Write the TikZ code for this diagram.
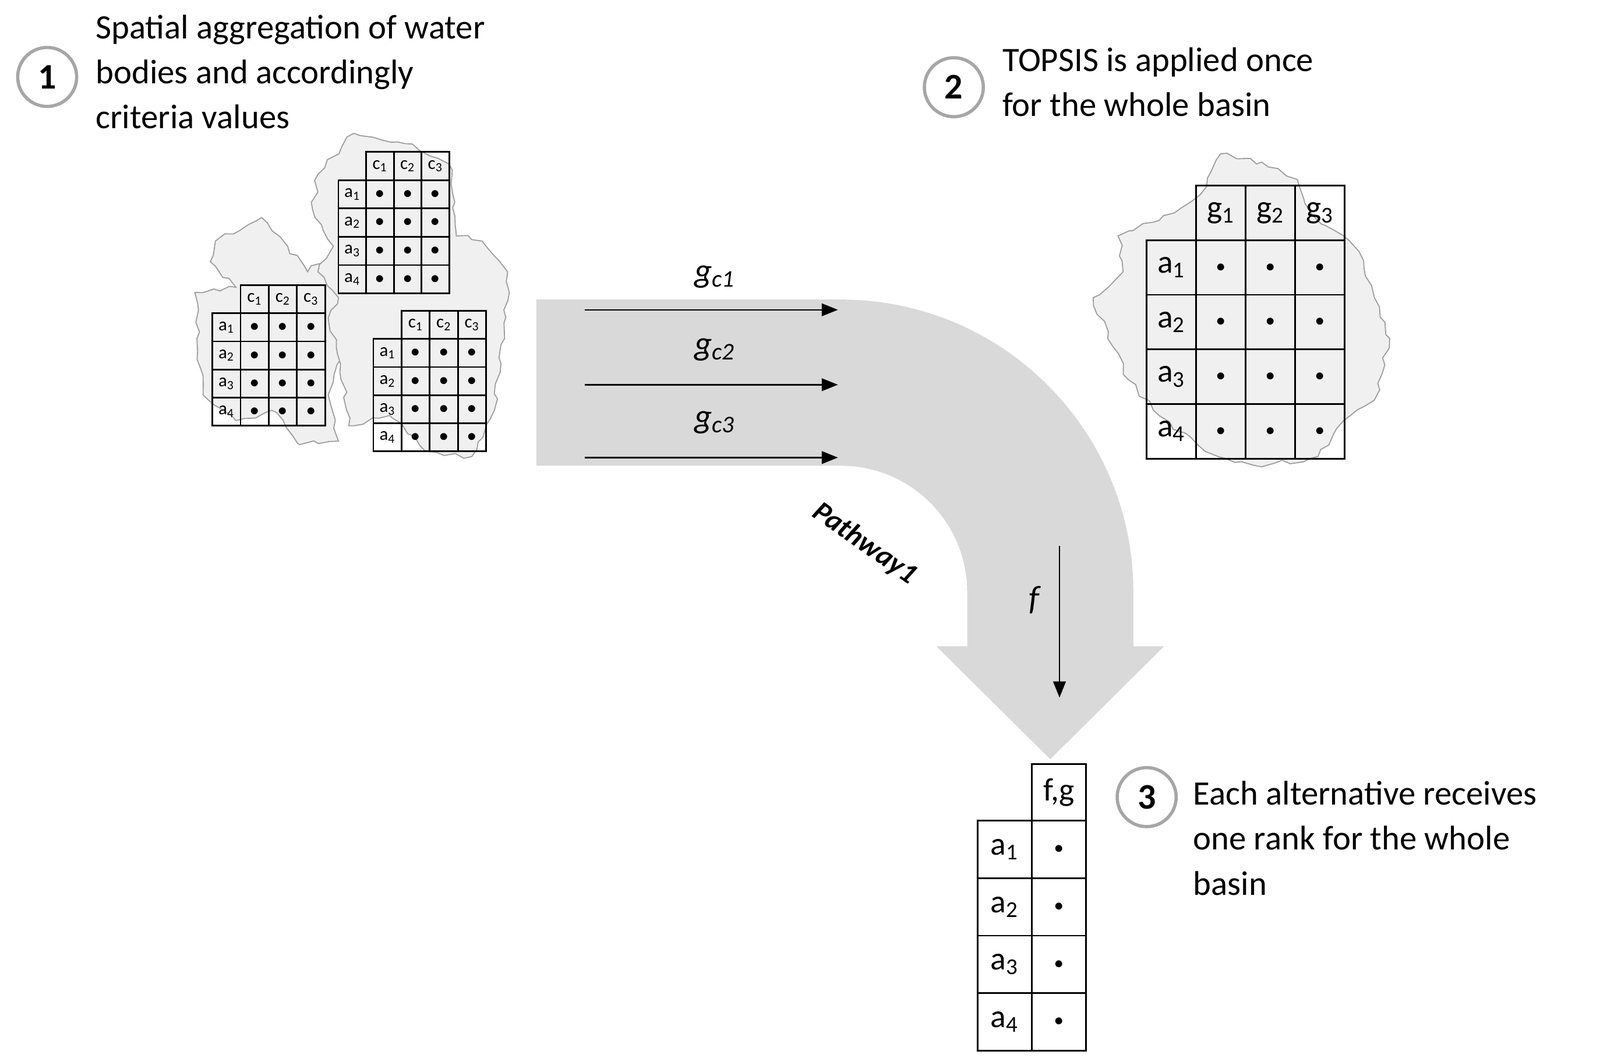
\documentclass[tikz,border=0pt]{standalone}
\usepackage{fontspec}
\setmainfont{Carlito}
\usetikzlibrary{arrows.meta,decorations.pathmorphing}
\tikzset{
  basin/.style={fill=gray!12, draw=gray!75, line width=0.6pt,
    decorate, decoration={random steps, segment length=5pt, amplitude=1.6pt}},
  stepc/.style={circle, draw=gray!70, line width=1.8pt, minimum size=1.15cm, inner sep=0pt, font=\fontsize{20}{20}\selectfont\bfseries},
  desc/.style={anchor=north west, align=left, inner sep=0pt, font=\fontsize{19}{25}\selectfont},
  flowarr/.style={-{Triangle[length=9pt,width=7pt]}, line width=0.8pt},
  glab/.style={font=\fontsize{19}{19}\selectfont\itshape}
}
% cell grid: #1 x0, #2 y0 (top of header), #3 cell w, #4 cell h, #5 letter, #6 font
\newcommand\gridtab[6]{%
  \foreach \j in {1,2,3}{
    \node[draw, line width=0.9pt, minimum width=#3*0.02cm, minimum height=#4*0.02cm, inner sep=0pt, font=#6]
      (h#5\j) at ({#1+(\j+0.5)*#3},{#2+0.5*#4}) {#5\textsubscript{\j}};}
  \foreach \i in {1,2,3,4}{
    \node[draw, line width=0.9pt, minimum width=#3*0.02cm, minimum height=#4*0.02cm, inner sep=0pt, font=#6]
      (r#5\i) at ({#1+0.5*#3},{#2+(\i+0.5)*#4}) {a\textsubscript{\i}};
    \foreach \j in {1,2,3}{
      \node[draw, line width=0.9pt, minimum width=#3*0.02cm, minimum height=#4*0.02cm, inner sep=0pt]
        (d#5\i\j) at ({#1+(\j+0.5)*#3},{#2+(\i+0.5)*#4}) {$\bullet$};}}}
\begin{document}
\begin{tikzpicture}[x=0.02cm, y=-0.02cm]
\useasboundingbox (0,0) rectangle (1560,1031);
% basins, left cluster
\path[basin] (210,235) -- (255,212) -- (300,265) -- (325,245) -- (338,290) -- (335,330) -- (320,385) -- (330,430) -- (290,432) -- (265,400) -- (230,410) -- (198,385) -- (192,330) -- (190,285) -- (230,280) -- (205,255) -- cycle;
\path[basin] (310,170) -- (345,130) -- (395,140) -- (438,160) -- (445,230) -- (470,235) -- (495,265) -- (492,330) -- (482,400) -- (460,445) -- (415,440) -- (380,405) -- (340,415) -- (332,355) -- (320,310) -- (330,290) -- (310,265) -- (325,240) -- (305,205) -- cycle;
% basin, right
\path[basin] (1090,230) -- (1130,215) -- (1170,190) -- (1190,150) -- (1230,158) -- (1265,175) -- (1280,210) -- (1325,245) -- (1340,290) -- (1355,330) -- (1340,390) -- (1310,410) -- (1285,445) -- (1230,455) -- (1175,440) -- (1130,405) -- (1100,370) -- (1080,330) -- (1066,290) -- (1095,265) -- cycle;
% small tables
\gridtab{330}{148}{27}{27.6}{c}{\fontsize{10}{10}\selectfont}
\gridtab{207}{278}{27.5}{27.4}{c}{\fontsize{10}{10}\selectfont}
\gridtab{364}{303}{27.5}{27.4}{c}{\fontsize{10}{10}\selectfont}
% big table
\gridtab{1118}{181}{48.25}{53.2}{g}{\fontsize{18}{18}\selectfont}
% big curved arrow
\fill[gray!30] (523,292) -- (820,292) arc[start angle=-90, end angle=0, radius=285] -- (1105,630)
  -- (1135,630) -- (1024,740) -- (913,630) -- (943,630) -- (943,577)
  arc[start angle=0, end angle=-90, radius=123] -- (523,454) -- cycle;
% g arrows
\coordinate (s1) at (570,302); \coordinate (e1) at (817,302);
\coordinate (s2) at (570,375); \coordinate (e2) at (817,375);
\coordinate (s3) at (570,446); \coordinate (e3) at (817,446);
\draw[flowarr] (s1) -- (e1);
\draw[flowarr] (s2) -- (e2);
\draw[flowarr] (s3) -- (e3);
\node[glab] (gc1) at (697,270) {g\textsubscript{c1}};
\node[glab] (gc2) at (697,341) {g\textsubscript{c2}};
\node[glab] (gc3) at (697,412) {g\textsubscript{c3}};
\coordinate (fs) at (1033,532); \coordinate (fe) at (1033,680);
\draw[flowarr] (fs) -- (fe);
\node[glab] (f) at (1008,585) {f};
\node[rotate=-35, inner sep=0pt, font=\fontsize{16}{16}\selectfont\bfseries\itshape] (pw) at (843,530) {Pathway1};
% result table
\node[draw, line width=0.9pt, minimum width=53*0.02cm, minimum height=55*0.02cm, inner sep=0pt, font=\fontsize{18}{18}\selectfont] (hfg) at (1032.5,772.5) {f,g};
\foreach \i in {1,2,3,4}{
  \node[draw, line width=0.9pt, minimum width=53*0.02cm, minimum height=56*0.02cm, inner sep=0pt, font=\fontsize{18}{18}\selectfont]
    (ra\i) at (979.5,{800+(\i-0.5)*56}) {a\textsubscript{\i}};
  \node[draw, line width=0.9pt, minimum width=53*0.02cm, minimum height=56*0.02cm, inner sep=0pt]
    (rv\i) at (1032.5,{800+(\i-0.5)*56}) {$\bullet$};}
% steps
\node[stepc] (st1) at (46,75) {1};
\node[desc] (t1) at (93,14) {Spatial aggregation of water\\bodies and accordingly\\criteria values};
\node[stepc] (st2) at (930,85) {2};
\node[desc] (t2) at (977,46) {TOPSIS is applied once\\for the whole basin};
\node[stepc] (st3) at (1118,777) {3};
\node[desc] (t3) at (1163,761) {Each alternative receives\\one rank for the whole\\basin};
\end{tikzpicture}
\end{document}
